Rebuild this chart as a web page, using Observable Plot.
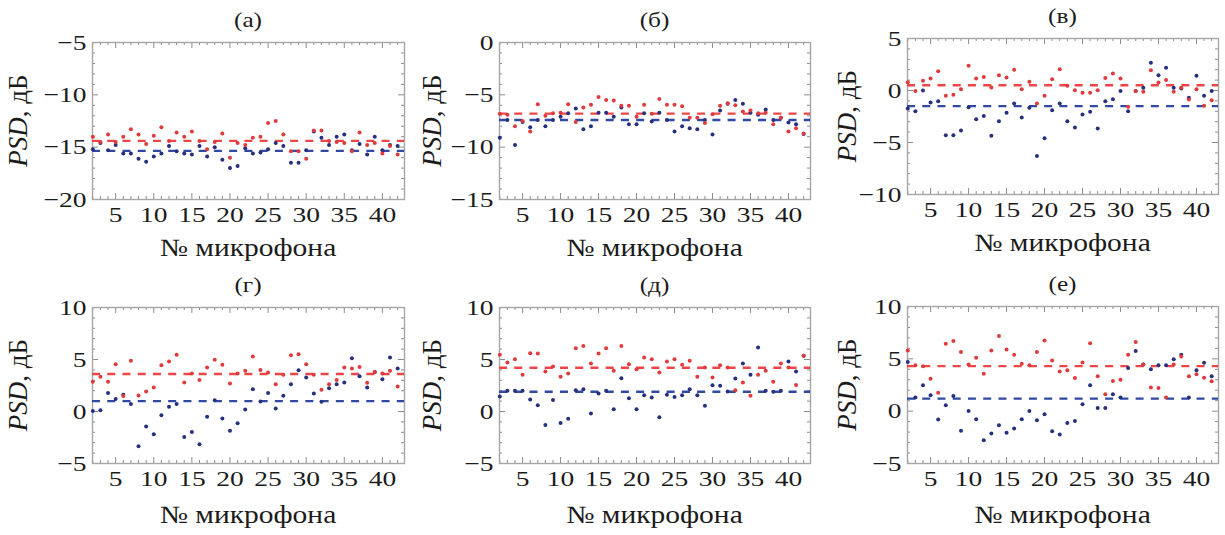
<!DOCTYPE html>
<html>
<head>
<meta charset="utf-8">
<script src="https://cdn.jsdelivr.net/npm/d3@7"></script>
<script src="https://cdn.jsdelivr.net/npm/@observablehq/plot@0.6"></script>
<style>
  body { margin: 0; background: #fff; }
  #fig { position: relative; width: 1225px; height: 535px; overflow: hidden; background: #fff; }
  #fig svg { position: absolute; overflow: visible; }
  #fig svg, #fig svg text, #fig svg tspan { font-family: "Liberation Serif", serif !important; }
</style>
</head>
<body>
<div id="fig"></div>
<script>
// Microphone numbers shown on the horizontal axis
const mics = d3.range(2, 43);
const xTickValues = [5, 10, 15, 20, 25, 30, 35, 40];

// Panel letters
const panelTitles = ["(а)", "(б)", "(в)", "(г)", "(д)", "(е)"];

// PSD per microphone, dB (red and blue series), panels а–е
const redA = [-14.0, -14.5, -13.8, -14.5, -14.0, -13.3, -13.8, -14.7, -13.9, -13.1, -14.4, -13.6, -14.0, -13.5, -14.4, -15.2, -14.5, -13.7, -16.0, -14.6, -14.8, -14.1, -14.0, -12.7, -12.5, -13.8, -15.4, -15.4, -16.1, -13.4, -13.4, -14.4, -14.5, -14.6, -15.4, -13.6, -14.8, -14.6, -15.6, -14.9, -15.7];
const blueA = [-15.2, -14.6, -15.3, -14.8, -15.6, -15.6, -16.1, -16.4, -15.9, -15.6, -14.9, -15.4, -15.6, -15.7, -14.9, -15.9, -15.0, -16.2, -17.0, -16.8, -15.1, -15.6, -15.5, -15.2, -14.6, -14.9, -16.5, -16.5, -15.3, -13.5, -14.1, -14.8, -14.0, -13.8, -15.3, -14.7, -15.7, -14.0, -15.3, -14.8, -14.9];

const redB = [-6.8, -6.9, -8.0, -7.5, -8.5, -5.9, -7.0, -6.75, -6.7, -5.9, -7.6, -6.2, -5.95, -5.2, -5.5, -5.55, -6.05, -6.05, -7.1, -5.95, -6.8, -5.4, -5.95, -5.95, -6.1, -7.2, -7.2, -7.7, -6.85, -6.05, -5.8, -6.0, -6.6, -6.5, -6.75, -6.7, -7.8, -7.2, -8.5, -8.2, -8.7];
const blueB = [-9.1, -7.4, -9.8, -7.6, -8.1, -7.4, -8.0, -7.4, -7.1, -6.75, -6.3, -8.3, -8.0, -6.7, -6.7, -7.1, -6.2, -7.8, -7.8, -6.75, -7.55, -6.7, -7.4, -8.5, -8.0, -8.2, -8.3, -7.4, -8.8, -6.5, -5.85, -5.5, -5.85, -6.7, -6.9, -6.4, -7.4, -7.2, -7.65, -7.8, -8.75];

const redC = [0.8, -0.06, 0.93, 1.15, 1.86, -0.5, -0.4, 0.13, 2.37, 1.15, 1.3, 0.29, 1.47, 1.25, 2.0, 0.13, 0.83, -1.25, -0.5, 1.09, 2.05, 0.45, 0.03, -0.22, -0.22, 0.03, 1.2, 1.63, 1.15, -1.57, -0.06, -0.13, 1.95, 0.77, 1.0, -0.13, 0.26, -0.87, 0.13, -1.47, -0.93];
const blueC = [-1.73, -1.99, 0.0, -1.15, -1.03, -4.3, -4.3, -3.85, -1.6, -2.76, -2.44, -4.36, -2.95, -2.15, -1.25, -2.6, -1.67, -6.3, -4.6, -1.9, -1.25, -2.95, -3.56, -2.3, -2.05, -3.65, -1.03, -0.83, -0.06, -1.99, -0.06, 0.26, 2.66, 1.47, 2.18, 0.26, 0.19, -0.7, 1.41, -0.5, -0.06];

const redD = [2.85, 3.33, 2.85, 4.55, 1.5, 4.87, 1.54, 1.92, 2.31, 4.45, 4.81, 5.45, 2.79, 3.65, 3.04, 4.23, 4.97, 4.49, 2.69, 3.65, 3.91, 5.29, 4.0, 3.75, 2.63, 3.53, 5.42, 5.51, 4.55, 3.53, 2.08, 2.63, 3.04, 4.23, 4.13, 4.29, 2.76, 3.81, 3.65, 3.91, 2.4];
const blueD = [0.06, 0.13, 1.79, 1.19, 1.6, 0.71, -3.33, -1.44, -2.18, -0.35, 0.45, 0.71, -2.44, -1.96, -3.14, -0.51, 1.09, -0.67, -1.86, -1.12, 0.19, 2.15, 0.96, 1.79, 0.29, 1.51, 2.63, 3.97, 3.27, 1.73, 0.93, 2.24, 2.63, 2.8, 5.13, 3.4, 2.31, 3.81, 3.11, 5.19, 4.13];

const redE = [5.45, 4.71, 5.03, 3.53, 5.6, 5.58, 3.85, 4.33, 3.33, 3.65, 6.09, 6.31, 4.62, 5.58, 6.09, 3.91, 6.31, 4.55, 4.07, 5.19, 5.03, 3.75, 4.81, 5.03, 4.49, 4.87, 3.33, 4.23, 3.27, 4.45, 4.23, 2.05, 2.79, 1.51, 3.53, 3.91, 2.85, 4.62, 4.23, 2.56, 5.35];
const blueE = [1.44, 2.0, 2.0, 2.0, 1.15, 0.6, -1.3, 1.1, -1.1, -0.7, 2.05, 2.15, -0.2, 1.73, 2.0, 0.22, 3.2, 1.28, 0.22, 1.57, 1.35, -0.55, 1.6, 1.4, 1.57, 2.15, 1.57, 0.55, 2.53, 2.47, 1.92, 3.17, 4.62, 3.53, 6.15, 2.0, 1.9, 2.0, 4.8, 3.85, 5.35];

const redF = [5.8, 4.38, 4.3, 3.1, 1.77, 6.44, 6.7, 5.65, 4.47, 5.1, 3.58, 5.8, 7.17, 5.9, 5.4, 4.53, 4.38, 5.65, 6.76, 4.85, 3.8, 3.9, 3.17, 4.66, 6.5, 3.33, 1.61, 2.88, 3.0, 5.4, 6.6, 4.47, 2.25, 2.21, 1.3, 4.47, 5.23, 3.33, 3.52, 3.2, 2.85];
const blueF = [4.7, 1.3, 2.47, 1.52, -0.8, 0.56, 1.45, -1.88, 0.02, -0.77, -2.77, -2.14, -1.34, -2.07, -1.66, -0.77, 0.02, -0.87, -0.3, -1.92, -2.24, -1.12, -0.93, 0.66, 2.47, 0.31, 0.31, 1.61, 1.3, 4.12, 5.74, 4.47, 4.0, 4.38, 4.38, 4.95, 5.4, 1.3, 3.9, 4.63, 3.33];

// Mean levels (dashed lines), dB
const redMeans  = [-14.4, -6.8, 0.5, 3.6, 4.2, 4.3];
const blueMeans = [-15.35, -7.4, -1.5, 1.0, 1.9, 1.2];

// Vertical ranges and tick labels of each panel
const yDomains = [[-20, -5], [-15, 0], [-10, 5], [-5, 10], [-5, 10], [-5, 10]];
const yTickSets = [[-20, -15, -10, -5], [-15, -10, -5, 0], [-10, -5, 0, 5], [-5, 0, 5, 10], [-5, 0, 5, 10], [-5, 0, 5, 10]];

const xLabel = "№ микрофона";

const reds = [redA, redB, redC, redD, redE, redF];
const blues = [blueA, blueB, blueC, blueD, blueE, blueF];

// ---- layout ----
const serif = '"Liberation Serif", serif';
const colors = {
  redDot: "#e03a3c", blueDot: "#27307e",
  redLine: "#ec4646", blueLine: "#2f4aa0",
  frame: "#a6a6a6", tick: "#8c8c8c", text: "#1b1b1b"
};
const cols = [
  {left: 0, width: 408, fl: 92, fr: 404, ylab: 18},
  {left: 408, width: 408, fl: 499, fr: 810, ylab: 432},
  {left: 816, width: 409, fl: 907, fr: 1218, ylab: 847}
];
const rows = [
  {top: 0, height: 267, ft: [42, 42, 38], fb: [199, 199, 194], xlab: 57},
  {top: 267, height: 268, ft: [307, 307, 306], fb: [463, 463, 463], xlab: 60}
];
// the lettering of this figure is set wide
const tickStretch = 1.25, labelStretch = 1.18, titleStretch = 1.15;

const fig = document.getElementById("fig");

panelTitles.forEach((title, k) => {
  const c = cols[k % 3], r = rows[Math.floor(k / 3)];
  const L = c.fl, R = c.fr, T = r.ft[k % 3], B = r.fb[k % 3];
  const fw = R - L, fh = B - T;
  const [y0, y1] = yDomains[k];

  const redPts = mics.map((m, i) => ({mic: m, psd: reds[k][i]}));
  const bluePts = mics.map((m, i) => ({mic: m, psd: blues[k][i]}));

  const xMajor = xTickValues;
  const xMinor = mics.filter(m => m % 5 !== 0);
  const yAll = d3.range(y0 + 1, y1);
  const yMajor = yAll.filter(v => v % 5 === 0);
  const yMinor = yAll.filter(v => v % 5 !== 0);

  const edge = (len) => ({
    top: {insetBottom: fh - len}, bottom: {insetTop: fh - len},
    left: {insetRight: fw - len}, right: {insetLeft: fw - len}
  });
  const minor = edge(3), major = edge(6);
  const tk = {stroke: colors.tick, strokeWidth: 1};

  const svg = Plot.plot({
    width: c.width,
    height: r.height,
    marginLeft: L - c.left,
    marginRight: c.left + c.width - R,
    marginTop: T - r.top,
    marginBottom: r.top + r.height - B,
    style: {fontFamily: serif, fontSize: "22px", color: colors.text, background: "transparent"},
    x: {domain: [1.96, 42.9], ticks: xTickValues, tickSize: 0, tickPadding: 7, label: null},
    y: {domain: [y0, y1], ticks: yTickSets[k], tickSize: 0, tickPadding: 6, label: null},
    marks: [
      Plot.ruleX(xMinor, {...tk, ...minor.top}),
      Plot.ruleX(xMinor, {...tk, ...minor.bottom}),
      Plot.ruleX(xMajor, {...tk, ...major.top}),
      Plot.ruleX(xMajor, {...tk, ...major.bottom}),
      Plot.ruleY(yMinor, {...tk, ...minor.left}),
      Plot.ruleY(yMinor, {...tk, ...minor.right}),
      Plot.ruleY(yMajor, {...tk, ...major.left}),
      Plot.ruleY(yMajor, {...tk, ...major.right}),
      Plot.frame({stroke: colors.frame, strokeWidth: 1.4}),
      Plot.ruleY([blueMeans[k]], {stroke: colors.blueLine, strokeWidth: 2.4, strokeDasharray: "8,7.24"}),
      Plot.ruleY([redMeans[k]], {stroke: colors.redLine, strokeWidth: 2.4, strokeDasharray: "8,7.24"}),
      Plot.dot(bluePts, {x: "mic", y: "psd", r: 2, fill: colors.blueDot}),
      Plot.dot(redPts, {x: "mic", y: "psd", r: 2, fill: colors.redDot})
    ]
  });

  svg.style.left = c.left + "px";
  svg.style.top = r.top + "px";

  const s = d3.select(svg);

  // widen the tick numbers about their own anchor points
  s.selectAll('g[aria-label$="tick label"] text').each(function () {
    const t = this.getAttribute("transform") || "";
    this.setAttribute("transform", `${t} scale(${tickStretch},1)`);
  });

  const cx = (L + R) / 2 - c.left;

  // panel letter above the frame
  s.append("text")
    .attr("transform", `translate(${cx},${T - r.top - 15}) scale(${titleStretch},1)`)
    .attr("text-anchor", "middle")
    .attr("font-size", 22).attr("fill", colors.text)
    .text(title);

  // horizontal axis title
  s.append("text")
    .attr("transform", `translate(${cx},${B - r.top + r.xlab}) scale(${labelStretch},1)`)
    .attr("text-anchor", "middle")
    .attr("font-size", 25).attr("fill", colors.text)
    .text(xLabel);

  // vertical axis title: italic quantity, upright unit
  const yl = s.append("text")
    .attr("transform", `translate(${c.ylab - c.left},${(T + B) / 2 - r.top}) rotate(-90)`)
    .attr("text-anchor", "middle").attr("dy", "0.35em")
    .attr("font-size", 27).attr("fill", colors.text);
  yl.append("tspan").attr("font-style", "italic").text("PSD");
  yl.append("tspan").text(", дБ");

  fig.appendChild(svg);
});
</script>
</body>
</html>
